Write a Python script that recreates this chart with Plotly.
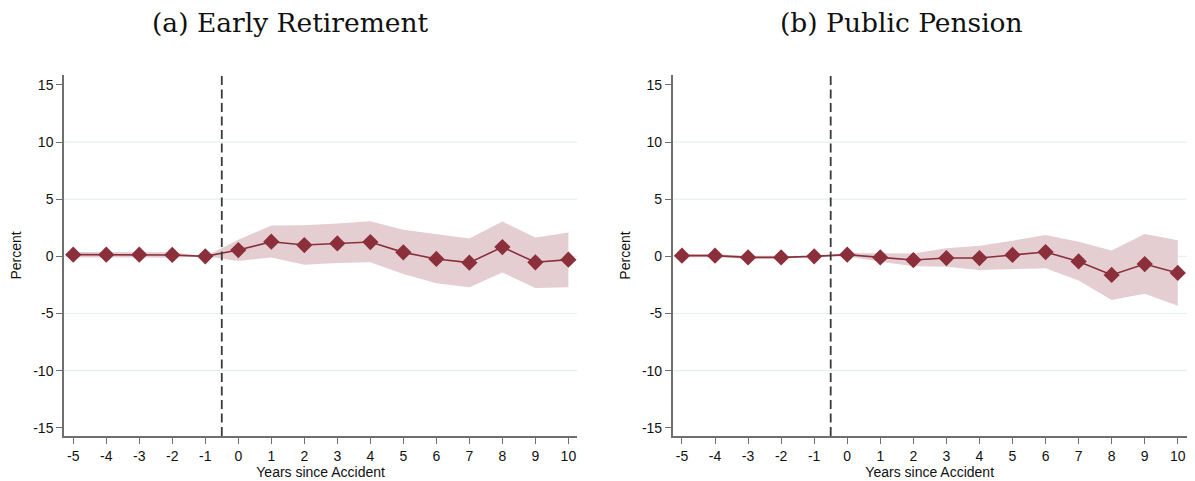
import plotly.graph_objects as go

# Event-time grid (years relative to the accident)
years = [-5, -4, -3, -2, -1, 0, 1, 2, 3, 4, 5, 6, 7, 8, 9, 10]

# (a) Early retirement: point estimates and 95% CI bounds (percent)
early_coef = [0.15, 0.15, 0.15, 0.12, 0.0, 0.55, 1.28, 0.99, 1.13, 1.25, 0.35, -0.23, -0.55, 0.81, -0.52, -0.29]
early_hi = [0.38, 0.38, 0.38, 0.36, 0.0, 1.45, 2.70, 2.72, 2.88, 3.08, 2.33, 1.98, 1.57, 3.05, 1.66, 2.09]
early_lo = [-0.10, -0.10, -0.10, -0.12, 0.0, -0.41, -0.09, -0.73, -0.58, -0.52, -1.54, -2.35, -2.70, -1.42, -2.76, -2.70]

# (b) Public pension: point estimates and 95% CI bounds (percent)
pension_coef = [0.06, 0.06, -0.09, -0.09, 0.0, 0.15, -0.09, -0.32, -0.15, -0.15, 0.12, 0.38, -0.44, -1.63, -0.67, -1.45]
pension_hi = [0.20, 0.20, 0.06, 0.06, 0.0, 0.30, 0.29, 0.26, 0.70, 0.93, 1.37, 1.86, 1.28, 0.52, 1.95, 1.42]
pension_lo = [-0.08, -0.08, -0.22, -0.22, 0.0, 0.0, -0.47, -0.87, -0.90, -1.19, -1.10, -1.05, -2.12, -3.81, -3.28, -4.33]

panel_titles = ["(a) Early Retirement", "(b) Public Pension"]
y_ticks = [15, 10, 5, 0, -5, -10, -15]
y_ticktext = ["15", "10", "5", "0", "-5", "-10", "-15"]
x_ticktext = [str(v) for v in years]
grid_values = [10, 5, 0, -5, -10]
treatment_cut = -0.5

LINE_COLOR = "#8b2f3b"
BAND_COLOR = "rgb(228,206,210)"
GRID_COLOR = "#e6eff0"
AXIS_COLOR = "#6f6f6f"
TICK_FONT = dict(family="Liberation Sans, Arial, sans-serif", size=14, color="#111111")
TITLE_FONT = dict(family="DejaVu Serif, serif", size=26.5, color="#111111")

fig = go.Figure()

panels = [
    ("x", "y", early_coef, early_hi, early_lo),
    ("x2", "y2", pension_coef, pension_hi, pension_lo),
]

for xa, ya, coef, hi, lo in panels:
    # confidence band
    fig.add_trace(go.Scatter(
        x=years + years[::-1],
        y=hi + lo[::-1],
        fill="toself",
        fillcolor=BAND_COLOR,
        line=dict(width=0),
        mode="lines",
        hoverinfo="skip",
        showlegend=False,
        xaxis=xa, yaxis=ya,
    ))
    # point estimates
    fig.add_trace(go.Scatter(
        x=years, y=coef,
        mode="lines+markers",
        line=dict(color=LINE_COLOR, width=1.6),
        marker=dict(symbol="diamond", size=12.5, color=LINE_COLOR),
        showlegend=False,
        xaxis=xa, yaxis=ya,
    ))

shapes = []
for xa, ya in [("x", "y"), ("x2", "y2")]:
    for g in grid_values:
        shapes.append(dict(
            type="line", xref=f"{xa} domain", yref=ya,
            x0=0, x1=1, y0=g, y1=g,
            line=dict(color=GRID_COLOR, width=1.2), layer="below",
        ))
    shapes.append(dict(
        type="line", xref=xa, yref=f"{ya} domain",
        x0=treatment_cut, x1=treatment_cut, y0=0, y1=1,
        line=dict(color="#3a3a3a", width=1.8, dash="9px,4.5px"), layer="above",
    ))

x_common = dict(
    range=[-5.28, 10.27],
    tickvals=years, ticktext=x_ticktext,
    ticks="outside", ticklen=6, tickwidth=1.3, tickcolor=AXIS_COLOR,
    showline=True, linecolor=AXIS_COLOR, linewidth=1.5,
    showgrid=False, zeroline=False,
    tickfont=TICK_FONT,
    title=dict(text="Years since Accident", font=TICK_FONT, standoff=0),
)
y_common = dict(
    range=[-15.72, 15.87],
    tickvals=y_ticks, ticktext=y_ticktext,
    ticks="outside", ticklen=6, tickwidth=1.3, tickcolor=AXIS_COLOR,
    showline=True, linecolor=AXIS_COLOR, linewidth=1.5,
    showgrid=False, zeroline=False,
    tickfont=TICK_FONT,
    title=dict(text="Percent", font=TICK_FONT, standoff=8),
)

W, H = 1195, 481
y_dom = [(H - 436) / H, (H - 75) / H]

fig.update_layout(
    width=W, height=H,
    margin=dict(l=0, r=0, t=0, b=0),
    paper_bgcolor="white", plot_bgcolor="white",
    xaxis=dict(domain=[64 / W, 577.3 / W], anchor="y", **x_common),
    yaxis=dict(domain=y_dom, anchor="x", **y_common),
    xaxis2=dict(domain=[672.7 / W, 1186.7 / W], anchor="y2", **x_common),
    yaxis2=dict(domain=y_dom, anchor="x2", **y_common),
    shapes=shapes,
    annotations=[
        dict(text=panel_titles[0], xref="paper", yref="paper",
             x=290.5 / W, y=(H - 23) / H, xanchor="center", yanchor="middle",
             showarrow=False, font=TITLE_FONT),
        dict(text=panel_titles[1], xref="paper", yref="paper",
             x=901.5 / W, y=(H - 23) / H, xanchor="center", yanchor="middle",
             showarrow=False, font=TITLE_FONT),
    ],
)

fig.write_html("out.html")
